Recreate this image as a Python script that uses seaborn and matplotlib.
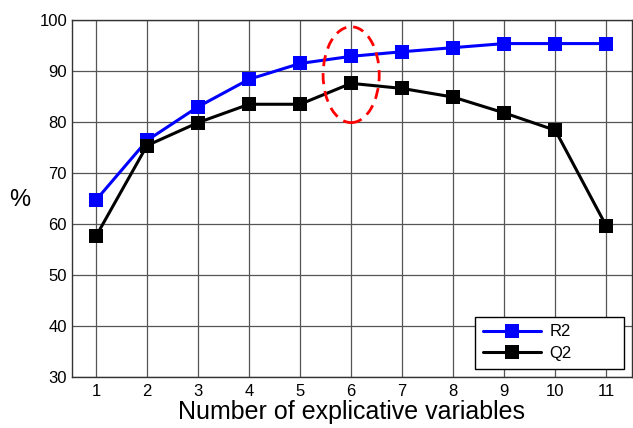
import matplotlib
matplotlib.use("Agg")
import matplotlib.pyplot as plt
import seaborn as sns
import pandas as pd
from matplotlib.patches import Ellipse

n_vars = [1, 2, 3, 4, 5, 6, 7, 8, 9, 10, 11]
r2 = [64.7, 76.4, 83.0, 88.4, 91.5, 92.9, 93.8, 94.6, 95.4, 95.4, 95.4]
q2 = [57.6, 75.4, 79.9, 83.5, 83.5, 87.6, 86.6, 84.9, 81.8, 78.4, 59.6]
series_names = ["R2", "Q2"]
y_ticks = [30, 40, 50, 60, 70, 80, 90, 100]

df = pd.DataFrame({
    "n": n_vars * 2,
    "value": r2 + q2,
    "series": [series_names[0]] * len(n_vars) + [series_names[1]] * len(n_vars),
})

sns.set_style("white")
plt.rcParams['font.family'] = ['Liberation Sans', 'DejaVu Sans']
plt.rcParams['text.color'] = 'black'
plt.rcParams['xtick.color'] = 'black'
plt.rcParams['ytick.color'] = 'black'
plt.rcParams['axes.labelcolor'] = 'black'

fig = plt.figure(figsize=(6.33, 4.28), dpi=100)
ax = fig.add_axes([0.1137, 0.119, 0.8845, 0.834])

sns.lineplot(data=df, x="n", y="value", hue="series", style="series",
             palette={"R2": "#0000ff", "Q2": "#000000"},
             markers={"R2": "s", "Q2": "s"}, dashes=False,
             markersize=10, linewidth=2.2, markeredgewidth=0, ax=ax)

ax.add_patch(Ellipse((6, 89.3), 1.1, 18.8, fill=False, edgecolor="#ff0000",
                     linestyle=(0, (4, 2.5)), linewidth=2, zorder=5))

ax.set_xlim(0.53, 11.5)
ax.set_ylim(30, 100)
ax.set_xticks(n_vars)
ax.set_yticks(y_ticks)
ax.tick_params(axis="both", labelsize=12, direction="in", length=5, color="#333333")
ax.tick_params(axis="x", pad=5)
ax.grid(True, color="#555555", linewidth=0.9)
ax.set_axisbelow(True)
for s in ax.spines.values():
    s.set_color("#333333")
    s.set_linewidth(1)

ax.set_xlabel("Number of explicative variables", fontsize=18, labelpad=1)
ax.set_ylabel("%", fontsize=17, rotation=0, va="center", ha="center")
ax.yaxis.set_label_coords(-0.093, 0.497)

leg = ax.legend(loc="lower left", bbox_to_anchor=(0.7196, 0.0224, 0.266, 0.2),
                mode="expand", fontsize=12, frameon=True, fancybox=False,
                edgecolor="#000000", framealpha=1, handlelength=3.5,
                handletextpad=0.5, borderaxespad=0, borderpad=0.47,
                labelspacing=0.41)
leg.set_title(None)
leg.get_frame().set_linewidth(1)

fig.savefig("out.png", dpi=100)
